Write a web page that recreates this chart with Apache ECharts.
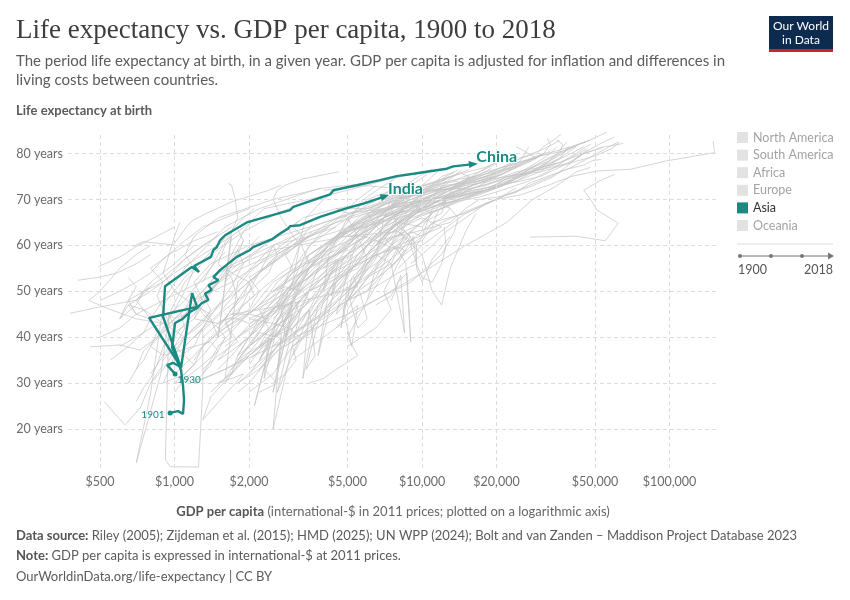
<!DOCTYPE html>
<html>
<head>
<meta charset="utf-8">
<script src="https://cdn.jsdelivr.net/npm/echarts@6/dist/echarts.min.js"></script>
<style>
html, body { margin: 0; padding: 0; background: #fff; }
#chart { width: 850px; height: 600px; }
</style>
</head>
<body>
<div id="chart"></div>
<script>
// axis ticks
var xTicks = [500, 1000, 2000, 5000, 10000, 20000, 50000, 100000];
var yTicks = [20, 30, 40, 50, 60, 70, 80];
var legendNames = ['North America', 'South America', 'Africa', 'Europe', 'Asia', 'Oceania'];

// highlighted countries: [gdp per capita, life expectancy]
var china = [[1005,32.0],[933,33.9],[986,34.4],[1062,33.5],[789,44.2],[1233,46.6],[1177,49.6],[1062,33.3],[899,44.4],[915,51.1],
  [1174,55.3],[1256,54.2],[1199,55.5],[1404,57.5],[1435,59.0],[1480,59.6],[1527,61.1],[1600,62.2],[1958,65.0],[2929,67.7],
  [3020,68.4],[4249,71.1],[4382,72.0],[5449,73.1],[6766,74.2],[7905,75.1],[9223,75.6],[12586,76.7],[13381,77.2],[16120,77.7]];
var india = [[959,23.5],[1033,23.9],[1082,23.3],[1092,26.3],[1082,29.4],[1062,32.8],[977,37.8],[1005,43.1],[1072,43.9],[1155,45.5],
  [1229,46.3],[1288,47.4],[1370,48.1],[1328,49.5],[1413,50.3],[1370,51.3],[1503,52.4],[1435,53.1],[1527,54.6],[1784,57.5],
  [2019,59.0],[2076,59.6],[2470,61.3],[2669,62.6],[2883,63.7],[2929,64.2],[3214,64.4],[3872,66.2],[4978,68.1],[5792,69.1],[7090,70.7]];
var chinaStart = '1930';
var indiaStart = '1901';

// all other countries, by continent
var northAmerica = [
  [[6500,47],[7500,49],[8000,52],[8700,54],[9000,39],[8600,56],[8000,59],[6500,61],[9500,63],[13000,65],[15000,68],[17000,70],[20000,70.5],[24000,71.5],[27000,73.5],[32000,75],[38000,76.5],[45000,77.5],[49000,78.5],[53000,78.7]],
  [[5000,48],[6000,50],[6500,52],[7500,57],[8500,62],[11000,67],[14000,70],[18000,72],[23000,74],[28000,77],[33000,79],[38000,80.5],[43000,82]],
  [[2200,28],[2600,30],[2300,33],[2500,36],[3000,40],[3500,46],[4500,52],[6000,58],[8500,63],[12000,67],[12500,70],[13500,73],[15000,74.5],[16500,75]],
  [[1300,32],[1400,35],[1500,38],[1700,40],[1600,44],[1800,48],[1700,53],[1500,56],[1600,60],[1700,62],[1500,40],[1700,63]],
  [[2000,28],[2500,32],[3000,38],[3800,42],[4500,46],[5500,52],[6500,57],[6800,62],[7000,66],[7500,70],[8000,73]],
  [[2200,38],[2600,45],[3000,52],[3200,60],[2700,66],[2500,70],[2600,72],[2800,73.1],[3300,74.5],[4600,76]],
  [[1800,36],[2000,40],[2200,43],[2600,47],[3000,51],[3500,56],[3200,61],[3400,66],[4000,70],[4500,72]],
  [[1500,38],[1900,44],[2500,52],[3800,58],[5500,62],[7000,67],[8000,70],[9000,72],[12000,73.5],[14000,74]],
  [[2200,35],[2600,42],[3200,48],[4000,54],[4500,57],[4000,50],[4200,58],[5000,66],[6500,70],[7500,72]],
  [[3000,40],[3500,44],[4000,48],[5000,52],[6500,56],[8000,60],[9500,64],[11000,67],[12500,70],[14500,72],[17000,74],[19000,75]],
  [[1700,33],[1900,36],[2200,38],[2500,41],[2100,25],[2600,44],[3200,48],[4000,53],[5500,58],[6500,62],[7500,66]]
];
var southAmerica = [
  [[5000,38],[6500,42],[7500,46],[7000,50],[8000,56],[9000,61],[10500,64],[12000,66],[13000,68],[11000,70],[12500,72],[15000,74],[18000,76],[19000,76.8]],
  [[1000,30],[1300,31],[1600,33],[2000,36],[2800,42],[3500,48],[4500,53],[6500,58],[10000,61],[11000,64],[11500,67],[12500,70],[14500,73],[15500,75],[14500,75.6]],
  [[3500,30],[4000,31],[4500,33],[5500,36],[5000,40],[6000,48],[6500,55],[7500,60],[8000,64],[7500,68],[9000,72],[13000,75],[18000,77],[22000,79],[23000,80]],
  [[1800,30],[2200,34],[2600,38],[3500,43],[4500,48],[5500,53],[6000,57],[5500,62],[5000,66],[6000,70],[8500,73],[10000,75.5],[11500,76.5]],
  [[1800,28],[2000,30],[2300,34],[2600,38],[2900,42],[3200,45],[3000,49],[3500,55],[4200,60],[5000,64],[6500,68],[7000,69]],
  [[1200,30],[1600,33],[2500,38],[5000,45],[9000,52],[12000,58],[13500,63],[14000,66],[13000,68],[12000,70],[13000,71.5],[15000,72.5],[11000,72],[9000,72.5]],
  [[2000,33],[2500,37],[2800,40],[3500,46],[4000,52],[5000,58],[6000,63],[7000,66],[8000,69],[10000,72],[12500,75],[14000,76.5]],
  [[5000,48],[5500,50],[6000,53],[7000,58],[8500,64],[9000,67],[10000,69],[11000,71],[13000,74],[17000,76],[20000,77.8]],
  [[2500,42],[2800,46],[3200,50],[3600,54],[4500,58],[6000,62],[7000,66],[8000,70],[9000,73],[10500,75.5]],
  [[2500,30],[2800,32],[3100,35],[3000,38],[3600,42],[4200,46],[5000,50],[5800,55],[6800,60],[7600,64],[8500,68],[10500,72],[12500,74.5]],
  [[3000,36],[3300,40],[3600,44],[4200,49],[5000,54],[6500,60],[8000,64],[9500,67],[11000,70],[12000,73],[14500,76.5]],
  [[1500,30],[1700,32],[1800,36],[2000,40],[2200,44],[2500,48],[2900,53],[3300,58],[3800,62],[4600,66],[5500,70],[6500,73]],
  [[3500,56],[4200,60],[5000,63],[6200,66],[7500,68],[9000,69.5],[11000,71],[14000,73],[18000,75],[22000,77]],
  [[2000,42],[2400,46],[2900,50],[3500,53],[4200,56],[5000,58],[6000,61],[7200,64],[8500,67],[10000,70]]
];
var africa = [
  [[1000,30],[1100,32],[1200,34],[1300,38],[1500,41],[1800,44],[2500,48],[3500,53],[4500,58],[5500,63],[7000,66],[8500,68],[10000,70],[11000,71]],
  [[1500,33],[1700,36],[1900,39],[2100,41],[2400,44],[2000,45],[1700,45],[2200,46],[2800,47],[4000,49],[5500,51],[5300,53]],
  [[2500,38],[3500,43],[5000,48],[6500,51],[8000,54],[9500,56],[9000,60],[9200,62],[9500,56],[10000,53],[11000,52],[12000,56],[12500,60],[12300,64]],
  [[650,30],[700,33],[750,35],[800,38],[850,41],[800,44],[700,45],[650,47],[800,50],[1000,54],[1300,58],[1700,62],[2100,65.5]],
  [[1100,38],[1300,42],[1500,47],[1700,51],[1900,56],[1800,59],[1700,56],[1600,52],[1800,55],[2300,60],[2800,63],[3200,65.5]],
  [[600,38],[700,40],[800,42],[900,43],[700,44],[550,46],[450,48],[500,50],[600,55],[700,58],[800,60]],
  [[1500,35],[1800,40],[2200,45],[2800,50],[3500,55],[4200,60],[5000,65],[5800,70],[7000,73],[8000,75]],
  [[850,40],[900,42],[1000,44],[950,45],[880,32],[700,12.6],[800,27.8],[900,47],[1100,53],[1500,60],[1900,66],[2100,68]],
  [[2000,38],[2500,42],[3000,45],[2800,40],[3500,50],[5500,55],[7000,62],[8500,66],[9500,68],[10000,71],[12000,75],[13500,76]],
  [[1200,40],[1400,43],[1600,46],[1900,49],[2000,52],[1700,54],[1600,55],[1900,57],[2500,60],[3500,62],[4500,64]],
  [[900,38],[1000,41],[1200,44],[1300,48],[1200,50],[1100,46],[1000,44],[1100,45],[1400,50],[1800,57],[2200,62]],
  [[700,45],[900,48],[1500,54],[2500,59],[5000,62],[8000,63],[10000,58],[11000,50],[12000,47],[13000,55],[15000,63],[16500,67]],
  [[1000,28],[1100,31],[1300,34],[1500,37],[1400,39],[1200,38],[900,36],[800,38],[1000,44],[1300,50],[1500,54]],
  [[700,26],[750,29],[800,31],[850,34],[900,38],[1000,42],[950,45],[1100,48],[1300,53],[1500,57],[1600,58.5]],
  [[1000,35],[1200,38],[1300,42],[1400,45],[1200,47],[1000,50],[900,54],[950,58],[1000,62],[1050,65]],
  [[2000,38],[2500,42],[3200,46],[4500,52],[6000,58],[7500,64],[8500,69],[9500,72],[10500,74],[11500,76]],
  [[1500,42],[1700,46],[2000,50],[2400,54],[2600,58],[2500,60],[2300,56],[2000,50],[1800,45],[1500,43],[1200,44],[1500,52],[1800,58],[1900,61]],
  [[900,30],[950,33],[1000,36],[1100,40],[900,43],[750,46],[650,47],[600,44],[650,48],[700,51],[650,53]],
  [[1800,35],[2000,38],[2300,41],[2800,45],[3500,48],[3300,50],[2800,51],[2500,50],[3000,53],[4000,57],[5000,59]],
  [[1300,33],[1500,36],[1800,39],[1600,43],[2000,46],[2200,50],[2000,53],[2600,57],[3300,61],[3600,63]],
  [[2200,33],[2600,37],[3200,40],[2900,42],[2500,43],[2000,44],[2700,47],[4000,53],[6000,58],[6500,61],[5800,62]],
  [[407,52.4],[500,53.1],[586,54.0],[700,56],[800,58]],
  [[378,45.2],[500,46.6],[705,48.1],[800,51]],
  [[455,37.9],[602,38.3],[725,37.2],[850,40]],
  [[491,55.3],[602,57.5],[713,60.0],[850,62],[1000,64]],
  [[520,26],[565,23.7],[630,20.9],[727,24.6],[800,30],[900,34]],
  [[500,40],[600,42],[700,45],[650,48],[750,50],[900,53],[1100,57],[1400,61],[1700,64]],
  [[550,35],[650,38],[750,41],[800,44],[700,48],[800,52],[1000,56],[1200,60]],
  [[600,44],[700,47],[750,50],[900,52],[800,55],[950,58],[1200,61],[1500,63]],
  [[1000,32],[1200,36],[1400,40],[1700,44],[1900,47],[2100,49],[2000,52],[2400,56],[3000,60],[3500,62]],
  [[1200,35],[1300,38],[1600,42],[2000,45],[2300,48],[2600,52],[3000,55],[2800,58],[3300,61],[4200,64]],
  [[2800,38],[3500,42],[4500,46],[5500,50],[7000,54],[8500,58],[9500,60],[9500,55],[10000,52],[11000,57],[13000,62]],
  [[1600,30],[1800,34],[2100,38],[2400,42],[2200,46],[2600,50],[3000,54],[3500,58],[4500,62],[5500,65]],
  [[800,30],[900,33],[1000,37],[1100,40],[1300,43],[1400,46],[1300,49],[1500,52],[1900,57],[2300,60]],
  [[700,33],[750,37],[850,40],[950,43],[900,46],[850,49],[900,52],[1100,57],[1300,60],[1500,62]],
  [[1500,40],[1800,43],[2200,47],[2700,50],[3200,52],[3000,48],[2600,46],[2800,50],[3600,56],[4500,60]],
  [[1300,40],[1500,43],[1800,46],[2200,50],[2700,54],[3300,57],[4000,60],[4800,63],[5800,66],[7000,68]],
  [[900,35],[1000,38],[1200,42],[1400,45],[1600,48],[1800,51],[2000,54],[2300,57],[2700,60],[3200,63]]
];
var europe = [
  [[7500,48],[7800,50],[8000,52],[8200,53.5],[8500,41],[7500,56],[8000,59],[8500,61],[9000,63],[10000,62],[11000,68],[12500,70],[15000,71],[18000,72],[21000,73],[24000,75],[28000,77],[33000,78.5],[37000,80],[39000,81],[39500,81.3]],
  [[5000,46],[5300,48],[5600,50],[6000,44],[5500,42],[5000,50],[6000,53],[7500,56],[6500,58],[5000,48],[7000,62],[9000,67],[12000,70],[16000,71.5],[20000,72.5],[24000,74],[28000,76],[32000,78],[35000,80],[37000,81.5],[38500,82.5]],
  [[4500,42],[5000,45],[5500,47],[5200,38],[4800,46],[6000,56],[7500,60],[8500,62],[4500,45],[5500,62],[8000,67],[12000,69],[17000,70.5],[21000,72],[27000,74],[32000,76],[38000,78.5],[43000,80],[46000,81]],
  [[3000,42],[3300,44],[3500,46],[3700,36],[3400,33],[4000,48],[4500,53],[5000,56],[5200,58],[4000,55],[5500,62],[8000,67],[12000,70],[17000,72],[22000,74],[27000,76],[32000,78],[36000,80],[37000,82],[35000,83]],
  [[2000,34],[2200,37],[2400,40],[2300,31],[2600,42],[3000,48],[2800,40],[2700,46],[3000,52],[3500,60],[5000,66],[8000,70],[13000,73],[17000,75],[21000,77],[26000,78.5],[31000,80],[33000,82],[32000,83.4]],
  [[4000,53],[4300,55],[4600,57],[4300,49],[4800,57],[5500,61],[6500,64],[8500,68],[11000,71],[14000,73],[17000,74],[21000,75.5],[25000,77.5],[30000,79.5],[37000,80.5],[43000,82],[46000,82.5]],
  [[3000,54],[3400,56],[3800,57],[4500,59],[5500,63],[6500,66],[9000,71],[12000,73],[17000,74],[22000,75],[30000,76.5],[40000,78],[50000,79.5],[58000,81],[63000,82.5]],
  [[1500,30],[1700,31],[1900,32],[1300,22],[1400,27],[2000,36],[2500,40],[3000,42],[2600,28],[3500,45],[4500,56],[6000,66],[7500,68],[9000,69],[10000,68],[11000,67],[10000,64],[8000,65],[9500,60],[11000,65],[15000,67],[20000,70],[24000,72.5]],
  [[2500,40],[2800,43],[3000,47],[2700,42],[3500,55],[4500,62],[6000,66],[7000,69],[8500,70.5],[9500,71],[8000,71],[10000,72],[13000,74],[18000,75.5],[25000,77.5]],
  [[1800,36],[2000,38],[2200,41],[2400,45],[3000,50],[3800,58],[5000,63],[7500,66],[11000,69],[14000,72],[18000,74],[22000,76],[25000,78.5],[26000,80],[27000,81.5]],
  [[6000,48],[6500,51],[7000,54],[8000,57],[9500,61],[12000,65],[16000,68],[22000,71],[28000,73],[34000,75],[38000,77],[42000,79],[48000,81],[54000,82.5],[60000,83.6]],
  [[2500,38],[2700,40],[2600,33],[2900,42],[3200,48],[2200,35],[3500,58],[5500,64],[9000,68],[14000,72],[18000,74],[21000,76],[24000,78],[29000,79],[26000,80.5],[24000,81.5]],
  [[3000,42],[3200,44],[3500,46],[3300,31],[3800,47],[4500,52],[5500,56],[6000,60],[8500,66],[12000,69],[17000,71],[21000,73],[25000,75],[30000,77],[36000,79],[39000,81.5]],
  [[6000,50],[6500,53],[7000,56],[7500,60],[8500,63],[6500,60],[9000,68],[12000,72],[15000,73],[19000,74],[24000,76],[30000,77],[36000,78],[42000,80],[46000,81.5],[48000,82]],
  [[2000,35],[2300,38],[2700,41],[2500,20],[3200,45],[4000,58],[5500,66],[7000,70],[8000,71],[8500,70],[7000,68],[5000,67],[4500,68],[6000,68],[7500,70],[8500,71.5]],
  [[3000,38],[3500,41],[4000,45],[4300,48],[4800,52],[5500,58],[7000,64],[8500,68],[11000,69.5],[13000,70],[14000,70],[15000,72],[20000,74],[25000,76],[29000,77.5]],
  [[4500,49],[5000,53],[5500,57],[6000,60],[7000,64],[8500,68],[11000,70],[14000,72],[18000,73],[22000,75],[30000,76],[40000,78],[45000,80],[55000,81.5],[65000,82.2]],
  [[5000,50],[5500,54],[6000,57],[7000,60],[8000,64],[10000,68],[13000,71],[18000,72.5],[25000,74],[30000,75],[36000,77],[42000,79],[47000,81]],
  [[1800,35],[2000,38],[2200,41],[2600,40],[3000,48],[3500,55],[5000,63],[6500,68],[8000,70],[8500,70.5],[7500,69],[9000,71],[13000,73],[18000,75],[20000,75.8]],
  [[1800,38],[2000,40],[2400,45],[3000,52],[4000,60],[6000,66],[9000,70],[10000,71],[7000,70],[8000,71.5],[12000,74],[14000,75.5]],
  [[8000,55],[10000,60],[15000,67],[20000,70],[25000,71],[32000,73],[40000,75],[50900,76.2],[70000,76.6],[97000,78.4],[152000,80.2],[150000,82.7]],
  [[4000,46],[4500,49],[5000,51],[4700,42],[5200,53],[6500,58],[8000,63],[10000,67],[14000,70],[19000,72],[25000,75],[32000,77.5],[40000,80],[45000,81.5]],
  [[3500,44],[3800,47],[4200,50],[3800,36],[4500,52],[5500,58],[7000,63],[9500,67],[13000,70],[18000,72],[24000,74],[30000,76],[36000,79],[42000,81.5]],
  [[2500,44],[3000,48],[3500,52],[4200,57],[5500,62],[7000,66],[9000,69],[11000,70],[12500,70.5],[14000,71],[17000,73],[22000,76],[28000,78.5],[31000,80]],
  [[9000,56],[10000,58],[11000,60],[12500,63],[15000,66],[18000,69],[22000,71],[27000,73],[33000,75],[40000,77],[47000,79],[55000,81],[62000,82.5]],
  [[2200,38],[2500,40],[2800,42],[2500,28],[3000,46],[3800,52],[5500,60],[7000,66],[9000,69],[11000,70],[13000,71],[16000,73],[20000,75],[24000,77]],
  [[5000,62],[6000,65],[7500,68],[9000,70],[11000,71.5],[14000,73],[18000,75],[23000,77],[28000,79],[33000,80.5]],
  [[6000,60],[7000,63],[8500,66],[10000,68],[12000,70],[15000,72],[19000,73.5],[24000,75],[29000,76.5],[35000,78]],
  [[4500,58],[5500,62],[7000,66],[8500,69],[10000,70],[11500,70.5],[13000,72],[16000,74],[21000,76],[26000,78],[30000,79.5]],
  [[7000,64],[9000,67],[12000,70],[16000,72],[20000,73],[25000,75],[32000,77],[40000,79],[48000,80.5],[54000,81.5]]
];
var asiaOther = [
  [[1500,43],[1600,44],[1800,44],[2000,43],[2200,44],[2600,46],[2800,47],[2400,40],[1600,31],[1800,52],[2500,60],[4000,65],[6000,68],[9000,71],[13000,72.5],[17000,75],[21000,77],[25000,79],[29000,80],[31000,81.5],[34000,83],[36500,84.2]],
  [[1100,32],[1300,36],[1500,40],[1400,44],[1200,48],[1700,52],[2200,56],[3000,60],[4500,63],[6500,66],[10000,70],[14000,72.5],[19000,75],[25000,79],[31000,81],[36000,82.8]],
  [[900,30],[1000,31],[1100,32],[1200,34],[1000,38],[900,41],[1100,45],[1300,49],[1700,54],[2500,58],[3200,62],[4000,64],[4500,65],[6000,67],[8000,69],[10500,70]],
  [[1000,38],[1100,42],[1050,46],[900,45],[800,44],[950,50],[1100,55],[1300,59],[1600,64],[2200,68],[3200,71],[3900,72.5]],
  [[1200,45],[1400,50],[1600,55],[1700,58],[1900,63],[2100,66],[2300,68],[2800,69],[3500,70],[5000,72],[7500,74.5],[11000,76.5]],
  [[1100,38],[1300,42],[1500,45],[1800,50],[2200,54],[2600,57],[3000,60],[3300,62],[3000,64],[3300,66],[4500,68],[6500,69.5]],
  [[27300,61.8],[42000,62],[55000,61],[62000,64.8],[55000,66.6],[50900,67.7],[48000,70],[45000,72],[52000,74],[60000,75.5]],
  [[1800,30],[2200,33],[2600,38],[3200,42],[4200,46],[5500,52],[7500,57],[9000,61],[8000,63],[9000,66],[11000,70],[14000,73],[17000,76],[19000,77.5]],
  [[1200,40],[1300,42],[1300,28.9],[1250,11.7],[960,11.8],[918,13.3],[950,45],[1100,52],[1400,58],[1900,63],[2600,67],[3400,69.5]],
  [[1500,42],[1700,46],[1900,50],[2200,54],[2800,58],[3500,62],[4500,66],[6500,69],[8500,71],[10000,73],[13000,75],[15500,76.5]],
  [[4000,60],[5000,64],[6500,67],[9000,70],[13000,73],[18000,76],[25000,78],[32000,80],[40000,81.5],[48000,83],[56000,84.7]],
  [[800,32],[850,34],[900,36],[1000,40],[1100,43],[1200,45],[1300,48],[1200,52],[1400,56],[2000,60],[3500,64],[5000,66.5]],
  [[1200,30],[1300,32],[1400,34],[1500,37],[1600,40],[1500,42],[1300,45],[1200,48],[1400,52],[1700,57],[1900,61],[1800,63.5]],
  [[1300,52],[1500,58],[1700,63],[1800,66],[1755,70.3],[1700,73.1],[1644,73.5]],
  [[1100,40],[1300,44],[1500,47],[1800,50],[2200,54],[2600,58],[3200,61],[3800,63],[4500,65],[5000,66.5]],
  [[680,59.7],[745,60.8],[845,60.5],[987,60.1],[1130,64.4],[1190,65.5],[1350,67],[1700,69.5],[2400,72],[2700,73.1]],
  [[900,42],[1000,46],[1100,50],[1200,55],[1100,58],[1200,62],[1500,66],[2500,70],[4000,72.5],[6000,73.5]],
  [[2500,45],[3000,50],[3800,55],[4800,60],[6000,64],[7000,67],[8000,70],[7500,72.5],[6000,73],[4000,72]],
  [[1800,40],[2500,45],[3500,50],[5000,55],[8000,60],[12000,64],[10000,66],[7000,62],[6000,67],[9000,69],[11000,70]],
  [[2000,45],[2500,50],[3500,55],[4500,58],[5500,61],[6000,62],[4500,62],[5000,63],[8000,66],[12000,69],[14000,70]],
  [[1400,28],[1600,31],[1800,35],[2100,40],[2600,46],[3200,52],[4000,57],[5000,62],[6500,67],[8500,70],[11000,73],[13000,75]],
  [[500,48],[600,50],[700,52],[800,54],[900,57],[1100,61],[1300,64],[1600,66],[2000,68]],
  [[1600,38],[2000,42],[2800,48],[3800,53],[5000,58],[7000,63],[9000,66],[12000,68],[15000,70],[18000,72]],
  [[3000,35],[4000,40],[6000,47],[10000,54],[15000,60],[22000,65],[28000,70],[35000,73],[42000,76],[48000,77]],
  [[2000,32],[2200,35],[2500,40],[3000,44],[3500,48],[4200,53],[5200,58],[6500,63],[8000,67],[10000,71],[12500,74]]
];
var oceania = [
  [[7500,55],[8000,57],[8500,59],[7500,60],[7000,62],[8000,65],[9500,67],[12000,70],[15000,71],[18000,72],[21000,74],[26000,76],[31000,78.5],[37000,80.5],[43000,82],[48000,83]],
  [[8000,58],[8500,60],[9000,62],[8000,64],[9500,66],[12000,68],[15000,70.5],[17000,71.5],[18500,72],[21000,74],[25000,76],[29000,78],[33000,80],[35000,81.5]],
  [[1500,35],[1800,38],[2200,42],[2600,47],[2800,52],[3000,56],[3200,60],[3400,63],[3600,64.5]],
  [[2500,50],[3000,54],[3800,58],[4500,62],[5500,64],[6500,66],[7500,67],[8500,67.5]]
];

var teal = '#1b8a83';
var lineGrey = '#c4c4c4';
var legendGrey = '#e2e2e2';

function money(v) {
    return '$' + String(v).replace(/\B(?=(\d{3})+(?!\d))/g, ',');
}

function greySeries(name, lines) {
    return lines.map(function (pts) {
        return {
            name: name,
            type: 'line',
            data: pts,
            symbol: 'none',
            silent: true,
            z: 2,
            color: legendGrey,
            lineStyle: { color: lineGrey, width: 0.9, opacity: 0.8 },
            emphasis: { disabled: true }
        };
    });
}

function tealSeries(pts, name, startYear, startPos, arrowRotate) {
    var data = pts.map(function (p, i) {
        if (i == 0) {
            return {
                value: p, symbol: 'circle', symbolSize: 5,
                label: {
                    show: true, formatter: startYear, position: startPos,
                    distance: 3, offset: startPos == 'left' ? [0, 2] : [-3, 6],
                    color: teal, fontSize: 10, fontFamily: 'Lato'
                }
            };
        }
        if (i == pts.length - 1) {
            return { value: p, symbol: 'triangle', symbolSize: [7, 9], symbolRotate: arrowRotate };
        }
        return p;
    });
    return {
        name: 'Asia',
        type: 'line',
        data: data,
        symbol: 'none',
        silent: true,
        z: 5,
        color: teal,
        lineStyle: { color: teal, width: 2.4 },
        emphasis: { disabled: true },
        endLabel: {
            show: true, formatter: name, color: teal, fontSize: 16, fontWeight: 'bold',
            fontFamily: 'Lato', distance: 3, offset: [0, -7],
            textBorderColor: '#fff', textBorderWidth: 2
        }
    };
}

var gridLine = { color: '#dcdcdc', type: [4, 3], width: 1 };
var tickLabel = { color: '#6b6b6b', fontSize: 12.5, fontFamily: 'Lato' };

var guides = {
    type: 'line',
    data: [],
    silent: true,
    z: 1,
    markLine: {
        silent: true,
        symbol: ['none', 'none'],
        animation: false,
        lineStyle: gridLine,
        emphasis: { disabled: true },
        data: xTicks.map(function (v) {
            return { xAxis: v, label: Object.assign({ show: true, position: 'start', distance: 7, formatter: money(v) }, tickLabel) };
        }).concat(yTicks.map(function (v) {
            return { yAxis: v, label: Object.assign({ show: true, position: 'start', distance: 5, formatter: v + ' years' }, tickLabel) };
        }))
    }
};

var series = [guides,
    tealSeries(china, 'China', chinaStart, 'right', -84),
    tealSeries(india, 'India', indiaStart, 'left', -72)]
    .concat(greySeries('North America', northAmerica))
    .concat(greySeries('South America', southAmerica))
    .concat(greySeries('Africa', africa))
    .concat(greySeries('Europe', europe))
    .concat(greySeries('Asia', asiaOther))
    .concat(greySeries('Oceania', oceania));

var font = 'Lato';
var chart = echarts.init(document.getElementById('chart'));
chart.setOption({
    animation: false,
    backgroundColor: '#fff',
    textStyle: { fontFamily: font },
    grid: { left: 68, right: 132, top: 132, bottom: 132 },
    xAxis: {
        type: 'log',
        min: 371,
        max: 157000,
        axisLine: { show: false },
        axisTick: { show: false },
        axisLabel: { show: false },
        splitLine: { show: false },
        name: '{b|GDP per capita} {n|(international-$ in 2011 prices; plotted on a logarithmic axis)}',
        nameLocation: 'middle',
        nameGap: 37,
        nameTextStyle: {
            fontSize: 13,
            rich: {
                b: { fontWeight: 'bold', color: '#555', fontSize: 13, fontFamily: font },
                n: { color: '#666', fontSize: 13, fontFamily: font }
            }
        }
    },
    yAxis: {
        type: 'value',
        min: 11.5,
        max: 84.7,
        axisLine: { show: false },
        axisTick: { show: false },
        axisLabel: { show: false },
        splitLine: { show: false }
    },
    legend: {
        orient: 'vertical',
        left: 732,
        top: 126,
        icon: 'rect',
        itemWidth: 11,
        itemHeight: 11,
        itemGap: 4.6,
        selectedMode: false,
        textStyle: { fontFamily: font, fontSize: 12.5, color: '#a3a3a3' },
        data: legendNames.map(function (n) {
            return n == 'Asia'
                ? { name: n, itemStyle: { color: teal }, textStyle: { color: '#333' } }
                : { name: n, itemStyle: { color: legendGrey } };
        })
    },
    graphic: [
        { type: 'text', x: 16, y: 31, style: { text: 'Life expectancy vs. GDP per capita, 1900 to 2018', font: '27px "Liberation Serif"', fill: '#3d3d3d', verticalAlign: 'middle' } },
        { type: 'text', x: 16, y: 61, style: { text: 'The period life expectancy at birth, in a given year. GDP per capita is adjusted for inflation and differences in', font: '15px Lato', fill: '#5b5b5b', verticalAlign: 'middle' } },
        { type: 'text', x: 16, y: 80, style: { text: 'living costs between countries.', font: '15px Lato', fill: '#5b5b5b', verticalAlign: 'middle' } },
        { type: 'text', x: 16, y: 111, style: { text: 'Life expectancy at birth', font: 'bold 13px Lato', fill: '#5b5b5b', verticalAlign: 'middle' } },
        // logo
        { type: 'rect', shape: { x: 769, y: 16, width: 64, height: 36 }, style: { fill: '#0d2a4f' } },
        { type: 'rect', shape: { x: 769, y: 49, width: 64, height: 3 }, style: { fill: '#c8261f' } },
        { type: 'text', x: 801, y: 26, style: { text: 'Our World', font: '12px Lato', fill: '#fff', align: 'center', verticalAlign: 'middle' } },
        { type: 'text', x: 801, y: 40, style: { text: 'in Data', font: '12px Lato', fill: '#fff', align: 'center', verticalAlign: 'middle' } },
        // timeline under the legend
        { type: 'line', shape: { x1: 737, y1: 244, x2: 833, y2: 244 }, style: { stroke: '#ddd', lineWidth: 1 } },
        { type: 'line', shape: { x1: 740, y1: 256, x2: 829, y2: 256 }, style: { stroke: '#777', lineWidth: 1 } },
        { type: 'circle', shape: { cx: 740, cy: 256, r: 2 }, style: { fill: '#777' } },
        { type: 'circle', shape: { cx: 771, cy: 256, r: 2 }, style: { fill: '#777' } },
        { type: 'circle', shape: { cx: 802, cy: 256, r: 2 }, style: { fill: '#777' } },
        { type: 'polygon', shape: { points: [[828, 252.5], [834, 256], [828, 259.5]] }, style: { fill: '#777' } },
        { type: 'text', x: 738, y: 270, style: { text: '1900', font: '12.5px Lato', fill: '#555', verticalAlign: 'middle' } },
        { type: 'text', x: 833, y: 270, style: { text: '2018', font: '12.5px Lato', fill: '#555', align: 'right', verticalAlign: 'middle' } },
        // footer
        { type: 'text', x: 16, y: 536, style: { text: '{b|Data source:} Riley (2005); Zijdeman et al. (2015); HMD (2025); UN WPP (2024); Bolt and van Zanden – Maddison Project Database 2023', font: '13px Lato', fill: '#5b5b5b', verticalAlign: 'middle', rich: { b: { fontWeight: 'bold', fontSize: 13, fontFamily: font, fill: '#555' } } } },
        { type: 'text', x: 16, y: 556, style: { text: '{b|Note:} GDP per capita is expressed in international-$ at 2011 prices.', font: '13px Lato', fill: '#5b5b5b', verticalAlign: 'middle', rich: { b: { fontWeight: 'bold', fontSize: 13, fontFamily: font, fill: '#555' } } } },
        { type: 'text', x: 16, y: 577, style: { text: 'OurWorldinData.org/life-expectancy | CC BY', font: '13px Lato', fill: '#5b5b5b', verticalAlign: 'middle' } }
    ],
    series: series
});
</script>
</body>
</html>
